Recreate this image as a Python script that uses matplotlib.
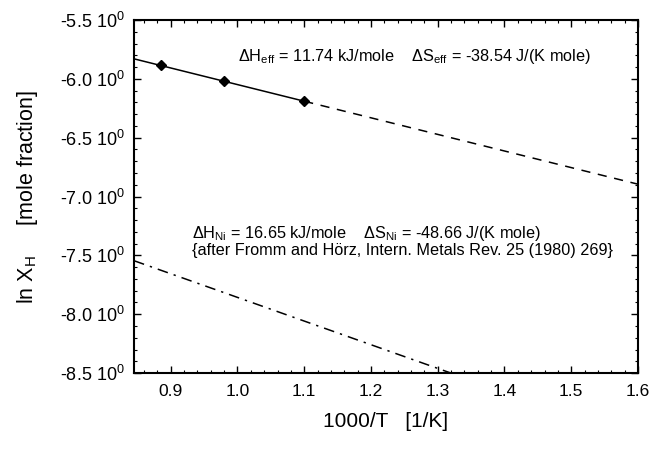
import matplotlib
matplotlib.use("Agg")
import matplotlib.pyplot as plt
from matplotlib.ticker import MultipleLocator, FuncFormatter

plt.rcParams['font.family'] = ['Liberation Sans', 'DejaVu Sans']
plt.rcParams['mathtext.fontset'] = 'custom'
plt.rcParams['mathtext.rm'] = 'Liberation Sans'
plt.rcParams['mathtext.it'] = 'Liberation Sans:italic'

# measured points
meas_x = [0.885, 0.980, 1.100]
meas_y = [-5.885, -6.015, -6.185]

# fitted line (solid over data range, dashed extrapolation)
fit_solid_x = [0.845, 1.100]
fit_solid_y = [-5.830, -6.190]
fit_dash_x = [1.100, 1.600]
fit_dash_y = [-6.190, -6.895]

# literature Ni line
ni_x = [0.845, 1.320]
ni_y = [-7.545, -8.500]

xticks = [0.9, 1.0, 1.1, 1.2, 1.3, 1.4, 1.5, 1.6]
yticks = [-8.5, -8.0, -7.5, -7.0, -6.5, -6.0, -5.5]

fig = plt.figure(figsize=(6.52, 4.49), dpi=100)
ax = fig.add_axes([0.2055, 0.169, 0.773, 0.7865])

ax.plot(fit_solid_x, fit_solid_y, color='black', lw=1.1)
ax.plot(fit_dash_x, fit_dash_y, color='black', lw=1.1, dashes=(6, 5))
ax.plot(ni_x, ni_y, color='black', lw=1.1, dashes=(7, 4, 1.5, 4))
ax.plot(meas_x, meas_y, linestyle='none', marker='D', ms=5, color='black')

ax.set_xlim(0.845, 1.6)
ax.set_ylim(-8.5, -5.5)
ax.set_xticks(xticks)
ax.set_yticks(yticks)
ax.xaxis.set_minor_locator(MultipleLocator(0.02))
ax.yaxis.set_minor_locator(MultipleLocator(0.1))
ax.yaxis.set_major_formatter(FuncFormatter(lambda v, p: f"{v:.1f} $10^0$"))
ax.xaxis.set_major_formatter(FuncFormatter(lambda v, p: f"{v:.1f}"))

ax.tick_params(which='both', direction='in', top=True, right=True, labelsize=12.5)
ax.tick_params(axis='y', labelsize=13)
ax.tick_params(which='major', length=5, width=1)
ax.tick_params(which='minor', length=2.5, width=0.8)
ax.tick_params(axis='x', pad=8)
ax.tick_params(axis='y', pad=7)
for s in ax.spines.values():
    s.set_linewidth(1.5)

ax.set_xlabel("1000/T   [1/K]", fontsize=15, labelpad=9)
ax.set_ylabel("ln X$_\\mathrm{H}$     [mole fraction]", fontsize=15.5, labelpad=14)

ax.text(0.206, 0.897, "$\\Delta$H$_{\\mathrm{eff}}$ = 11.74 kJ/mole    $\\Delta$S$_{\\mathrm{eff}}$ = -38.54 J/(K mole)",
        transform=ax.transAxes, fontsize=11.7, va='center', ha='left')
ax.text(0.115, 0.395, "$\\Delta$H$_{\\mathrm{Ni}}$ = 16.65 kJ/mole    $\\Delta$S$_{\\mathrm{Ni}}$ = -48.66 J/(K mole)",
        transform=ax.transAxes, fontsize=11.7, va='center', ha='left')
ax.text(0.115, 0.348, "{after Fromm and Hörz, Intern. Metals Rev. 25 (1980) 269}",
        transform=ax.transAxes, fontsize=11.7, va='center', ha='left')

fig.savefig("out.png", dpi=100)
